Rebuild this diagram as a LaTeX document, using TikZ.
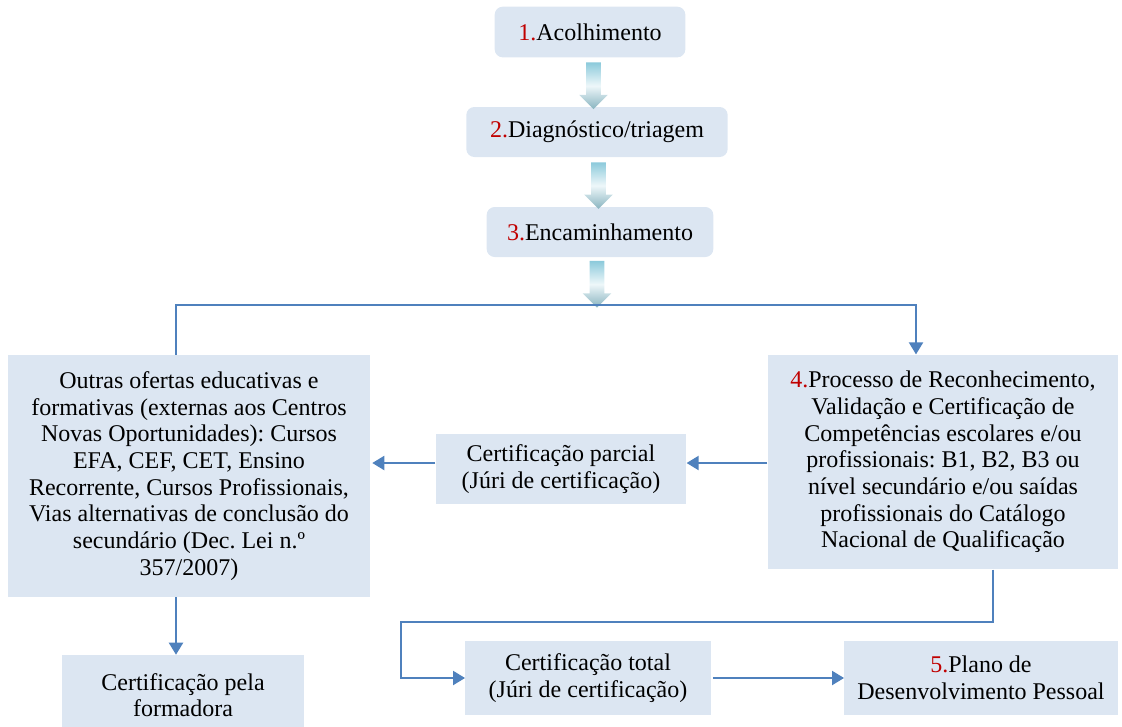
\documentclass[tikz,border=0pt]{standalone}
\usepackage{fontspec}
\setmainfont{Liberation Serif}
\usetikzlibrary{arrows.meta, positioning, shapes.arrows}
\definecolor{boxfill}{HTML}{DCE6F2}
\definecolor{linkblue}{HTML}{4F81BD}
\definecolor{numred}{HTML}{C00000}
\definecolor{tipblue}{HTML}{8CCADB}
\newcommand\nr[1]{\textcolor{numred}{#1.}}
\frenchspacing

\begin{document}
\begin{tikzpicture}[x=0.75pt, y=-0.75pt,
    font=\fontsize{18}{20}\selectfont,
box/.style = {fill=boxfill, align=center, inner sep=0pt},
rbox/.style = {box, rounded corners=6pt},
link/.style = {draw=linkblue, line width=1.5pt, -{Triangle[length=9pt,width=10.5pt]}},
blk/.style  = {single arrow, rotate=-90, inner sep=5.25pt,
               single arrow head extend=5.25pt, minimum height=35pt,
               top color=tipblue, bottom color=tipblue!70!gray, middle color=tipblue!15}
                        ]
\useasboundingbox (0,0) rectangle (1122,726);
%
\node (n1) [rbox, minimum width=143pt, minimum height=38pt]   at (590,32)  {\nr{1}Acolhimento};
\node (n2) [rbox, minimum width=196pt, minimum height=37.5pt] at (597,132) {\nr{2}Diagnóstico/triagem};
\node (n3) [rbox, minimum width=170pt, minimum height=37.5pt] at (600,232) {\nr{3}Encaminhamento};
%
\node (out) [box, minimum width=271.5pt, minimum height=181.5pt] at (189,476)
    {Outras ofertas educativas e\\ formativas (externas aos Centros\\ Novas Oportunidades): Cursos\\
     EFA, CEF, CET, Ensino\\ Recorrente, Cursos Profissionais,\\ Vias alternativas de conclusão do\\
     secundário (Dec. Lei n.º\\ 357/2007)};
\node (n4) [box, minimum width=263pt, minimum height=161pt] at (943,462)
    {\nr{4}Processo de Reconhecimento,\\ Validação e Certificação de\\ Competências escolares e/ou\\
     profissionais: B1, B2, B3 ou\\ nível secundário e/ou saídas\\ profissionais do Catálogo\\
     Nacional de Qualificação};
\node (parcial) [box, minimum width=188pt, minimum height=53pt] at (561,469)
    {Certificação parcial\\ (Júri de certificação)};
\node (pela) [box, minimum width=182pt, minimum height=60pt] at (183,695)
    {Certificação pela\\ formadora};
\node (total) [box, minimum width=184pt, minimum height=55.5pt] at (588,678)
    {Certificação total\\ (Júri de certificação)};
\node (plano) [box, minimum width=205pt, minimum height=56pt] at (981,678)
    {\nr{5}Plano de\\ Desenvolvimento Pessoal};
%
\coordinate (split)  at (594,304);
\coordinate (bend-l) at (176,305);
\coordinate (bend-r) at (916,305);
\coordinate (turn-r) at (993,622);
\coordinate (turn-l) at (401,622);
\coordinate (mid)    at (0,463);
%
\path (n1.south) -- (n2.north) node[midway, blk] {};
\path (n2.south) -- (n3.north) node[midway, blk] {};
\path (n3.south) -- (split)     node[midway, blk] {};
%
\draw[link] (bend-l |- out.north) -- (bend-l) -- (bend-r) -- (bend-r |- n4.north);
\draw[link] (n4.west |- mid) -- (parcial.east |- mid);
\draw[link] (parcial.west |- mid) -- ([xshift=1.5pt] out.east |- mid);
\draw[link] (bend-l |- out.south) -- (bend-l |- pela.north);
\draw[link] (turn-r |- n4.south) -- (turn-r) -- (turn-l) |- (total.west);
\draw[link] ([xshift=1.5pt] total.east) -- (plano.west);
\end{tikzpicture}
\end{document}
